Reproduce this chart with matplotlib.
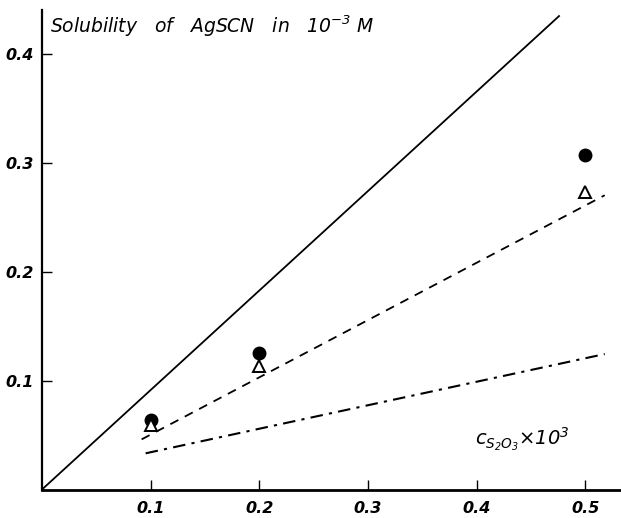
import matplotlib
matplotlib.use("Agg")
import matplotlib.pyplot as plt
import numpy as np

# Data
conc = [0.1, 0.2, 0.5]                 # c(S2O3) x 10^3
sol_circles = [0.064, 0.1255, 0.307]   # filled circles
sol_triangles = [0.059, 0.1136, 0.2727]  # open triangles

solid_x = [0.0, 0.4766]
solid_y = [0.0, 0.435]
dashed_x = [0.0917, 0.518]
dashed_y = [0.046, 0.270]
dashdot_x = [0.0954, 0.518]
dashdot_y = [0.0332, 0.1243]

xticks = [0.1, 0.2, 0.3, 0.4, 0.5]
yticks = [0.1, 0.2, 0.3, 0.4]

plt.rcParams['mathtext.fontset'] = 'custom'
plt.rcParams['mathtext.rm'] = 'DejaVu Sans:italic'
plt.rcParams['mathtext.it'] = 'DejaVu Sans:italic'

fig = plt.figure(figsize=(6.21, 5.18), dpi=100)
ax = fig.add_axes([42/621, 28.5/518, 1 - 42/621, (489.5-10)/518])
ax.set_xlim(0, 0.533)
ax.set_ylim(0, 0.44)

ax.plot(solid_x, solid_y, color='black', lw=1.3, solid_capstyle='butt')
ax.plot(dashed_x, dashed_y, color='black', lw=1.3, dashes=(5, 4))
ax.plot(dashdot_x, dashdot_y, color='black', lw=1.5, dashes=(6, 3, 1.5, 3))

ax.plot(conc, sol_circles, 'o', color='black', ms=9)
ax.plot(conc, sol_triangles, '^', mfc='white', mec='black', mew=1.4, ms=8)

for s in ['top', 'right']:
    ax.spines[s].set_visible(False)
ax.spines['left'].set_linewidth(1.6)
ax.spines['bottom'].set_linewidth(2.0)

ax.set_xticks(xticks)
ax.set_yticks(yticks)
ax.set_xticklabels([f"{v:.1f}" for v in xticks], fontstyle='italic', fontweight='bold', fontsize=11.5)
ax.set_yticklabels([f"{v:.1f}" for v in yticks], fontstyle='italic', fontweight='bold', fontsize=11.5)
ax.tick_params(axis='x', direction='in', length=7, width=1.0, pad=8)
ax.tick_params(axis='y', direction='in', length=7, width=1.0, pad=6)

fig.text(50/621, (518-33)/518, r'Solubility   of   AgSCN   in   $10^{-3}$ M',
         fontstyle='italic', fontsize=13.5, ha='left', va='baseline')

ax.text(0.399, 0.041, r'$c_{S_2O_3}{\times}10^3$', fontsize=14,
        ha='left', va='baseline')

fig.savefig('out.png', dpi=100)
